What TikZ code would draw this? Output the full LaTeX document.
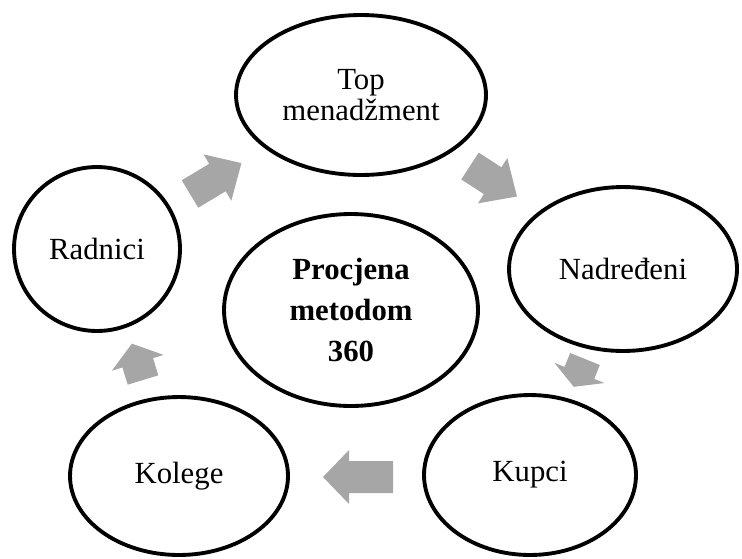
\documentclass[tikz,border=0pt]{standalone}
\usepackage{fontspec}
\setmainfont{Liberation Serif}
\usepackage{tikz}
\usetikzlibrary{shapes.geometric}
\definecolor{strelica}{RGB}{166,166,166}
\tikzset{
  krug/.style={draw, ellipse, line width=2.2pt, fill=white, inner sep=0pt,
    align=center, font=\fontsize{17.5}{17.5}\selectfont},
  pics/blokstrelica/.style n args={2}{code={
    \fill[strelica] (0,-16) -- ({#1-#2},-16) -- ({#1-#2},-27) -- (#1,0)
      -- ({#1-#2},27) -- ({#1-#2},16) -- (0,16) -- cycle;
  }}
}

\begin{document}
\begin{tikzpicture}[x=0.02cm, y=-0.02cm]
 \useasboundingbox (0,0) rectangle (742,558);
 % krugovi
 \node[krug, minimum width=5cm, minimum height=3.2cm] (vrh) at (361,95) {Top\\menadžment};
 \node[krug, minimum width=4.56cm, minimum height=3.28cm] (nadredjeni) at (623,269) {Nadređeni};
 \node[krug, minimum width=4.24cm, minimum height=3.2cm] (kupci) at (530,475) {Kupci};
 \node[krug, minimum width=4.36cm, minimum height=3.16cm] (kolege) at (179,476) {Kolege};
 \node[krug, minimum width=3.32cm, minimum height=3.28cm] (radnici) at (97,249) {Radnici};
 \node[krug, minimum width=5.08cm, minimum height=3.84cm,
   font=\fontsize{17.5}{23.6}\selectfont\bfseries] (centar) at (351,310) {Procjena\\metodom\\360};
 % strelice
 \pic[rotate=31] at (190,194) {blokstrelica={60}{28}};
 \pic[rotate=-33] at (470,166) {blokstrelica={56}{29}};
 \pic[rotate=248] at (585,359) {blokstrelica={30}{15}};
 \pic[rotate=180] at (393,477) {blokstrelica={70}{26}};
 \pic[rotate=107] at (143,380) {blokstrelica={38}{20}};
\end{tikzpicture}
\end{document}
